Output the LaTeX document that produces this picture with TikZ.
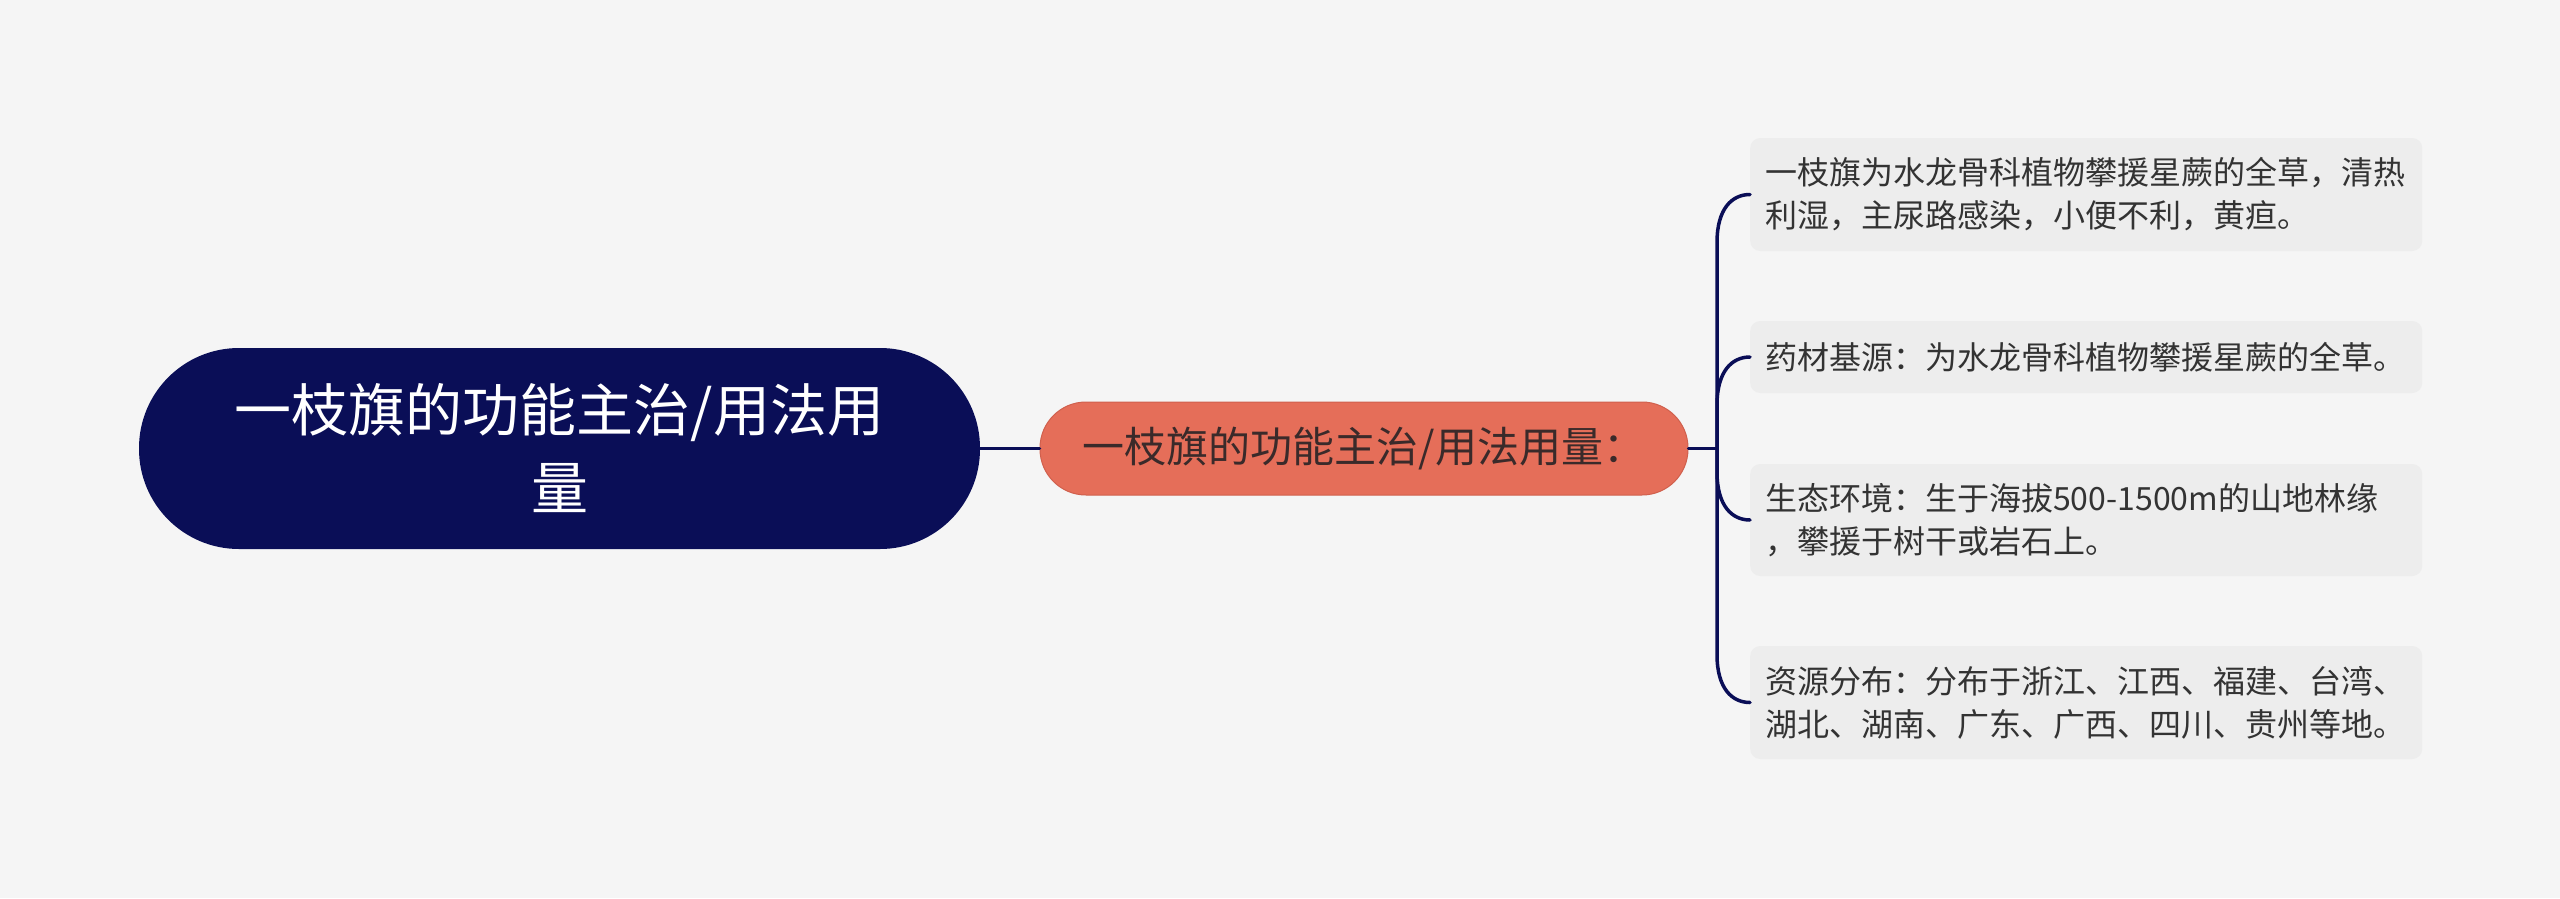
\documentclass[tikz,border=0pt]{standalone}
\usepackage{fontspec}
\setmainfont{Noto Sans CJK SC}
\usetikzlibrary{calc}
\definecolor{bgc}{HTML}{F5F5F5}
\definecolor{navy}{HTML}{0A0E57}
\definecolor{salmon}{HTML}{E56E59}
\definecolor{salmonb}{HTML}{D0604D}
\definecolor{leaffill}{HTML}{EDEDED}
\definecolor{leaftext}{HTML}{333333}
\definecolor{midtext}{HTML}{3A2A2A}
\tikzset{
  rootbox/.style={fill=navy, draw=none, rounded corners=100pt, minimum width=841pt, minimum height=201pt,
    text=white, align=center, inner sep=0pt, font=\fontsize{57pt}{78pt}\selectfont},
  midbox/.style={fill=salmon, draw=salmonb, line width=1pt, rounded corners=46pt, minimum width=648pt, minimum height=93pt,
    text=midtext, align=center, inner sep=0pt, font=\fontsize{42pt}{50pt}\selectfont},
  leafbox/.style={fill=leaffill, draw=none, rounded corners=10pt, anchor=west, inner xsep=15pt, inner ysep=0pt,
    text width=642pt, align=left, text=leaftext, font=\fontsize{32pt}{43pt}\selectfont},
  conn/.style={draw=navy, line width=3.5pt, line cap=round}
}
\begin{document}
\begin{tikzpicture}[x=1pt,y=1pt]
\useasboundingbox (0,0) rectangle (2560,-898);
\fill[bgc] (0,0) rectangle (2560,-898);
\node[rootbox] (root) at (559.5,-448.5) {一枝旗的功能主治/用法用\\量};
\node[midbox] (mid) at (1364,-448.5) {一枝旗的功能主治/用法用量：};
\node[leafbox, minimum height=113pt] (L1) at (1750,-194.5) {一枝旗为水龙骨科植物攀援星蕨的全草，清热\\利湿，主尿路感染，小便不利，黄疸。};
\node[leafbox, minimum height=72pt] (L2) at (1750,-357) {药材基源：为水龙骨科植物攀援星蕨的全草。};
\node[leafbox, minimum height=112pt] (L3) at (1750,-520) {生态环境：生于海拔500-1500m的山地林缘\\，攀援于树干或岩石上。};
\node[leafbox, minimum height=113pt] (L4) at (1750,-702.5) {资源分布：分布于浙江、江西、福建、台湾、\\湖北、湖南、广东、广西、四川、贵州等地。};
\coordinate (J) at (1717,-448.5);
\draw[conn] (root.east) -- (mid.west);
\draw[conn] (mid.east) -- (J);
\draw[conn] (J) -- ($(J|-L1.west)+(0,-48)$) .. controls ($(J|-L1.west)+(0,-14)$) and ($(L1.west)+(-18,0)$) .. (L1.west);
\draw[conn] (J) -- ($(J|-L2.west)+(0,-48)$) .. controls ($(J|-L2.west)+(0,-14)$) and ($(L2.west)+(-18,0)$) .. (L2.west);
\draw[conn] (J) -- ($(J|-L3.west)+(0,48)$) .. controls ($(J|-L3.west)+(0,14)$) and ($(L3.west)+(-18,0)$) .. (L3.west);
\draw[conn] (J) -- ($(J|-L4.west)+(0,48)$) .. controls ($(J|-L4.west)+(0,14)$) and ($(L4.west)+(-18,0)$) .. (L4.west);
\end{tikzpicture}
\end{document}
